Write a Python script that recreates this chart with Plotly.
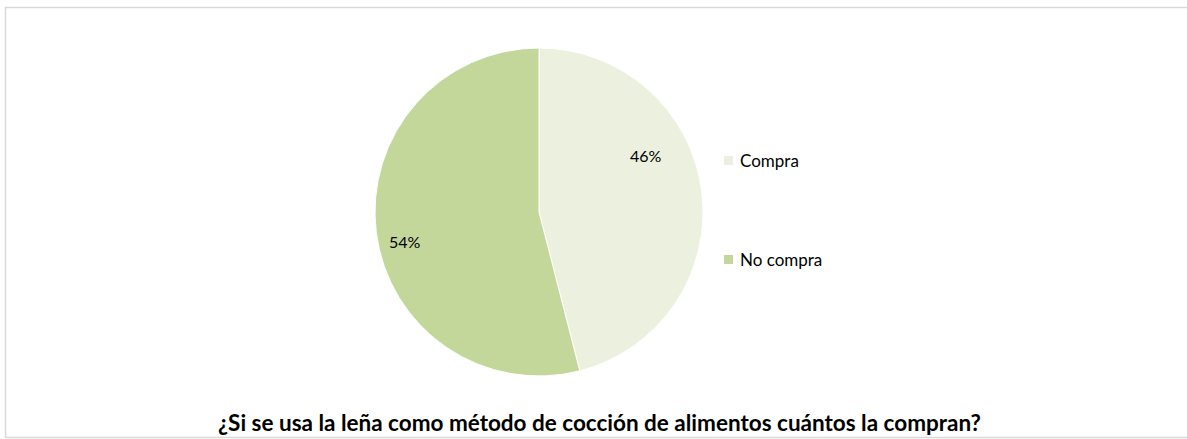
import plotly.graph_objects as go

# Survey answers: of households cooking with firewood, how many buy it
categories = ["Compra", "No compra"]
shares = [46, 54]
colors = ["#EBF1DE", "#C4D79B"]
title_text = "¿Si se usa la leña como método de cocción de alimentos cuántos la compran?"

W, H = 1187, 439
FONT = "Lato, 'Open Sans', sans-serif"

fig = go.Figure(
    go.Pie(
        labels=categories,
        values=shares,
        sort=False,
        direction="clockwise",
        rotation=0,
        marker=dict(colors=colors, line=dict(color="white", width=1)),
        textinfo="none",
        domain=dict(x=[375 / W, 703 / W], y=[1 - 376 / H, 1 - 48 / H]),
        showlegend=False,
        hoverinfo="label+percent",
    )
)

shapes = []
annotations = []

# Percentage labels placed inside each slice (best-fit spots)
label_pos = [(646, 155), (405, 241)]
for val, (lx, ly) in zip(shares, label_pos):
    annotations.append(dict(
        text=f"{val}%", xref="paper", yref="paper", x=lx / W, y=1 - ly / H,
        xanchor="center", yanchor="middle", showarrow=False,
        font=dict(family=FONT, size=16, color="#000000"),
    ))

# Hand-built legend: colour swatch plus label for each category
legend_y = [160, 259]
for name, col, ly in zip(categories, colors, legend_y):
    shapes.append(dict(
        type="rect", xref="paper", yref="paper",
        x0=724 / W, x1=733 / W, y0=1 - (ly + 5) / H, y1=1 - (ly - 4) / H,
        fillcolor=col, line=dict(width=0),
    ))
    annotations.append(dict(
        text=name, xref="paper", yref="paper", x=738 / W, y=1 - ly / H,
        xanchor="left", yanchor="middle", showarrow=False,
        font=dict(family=FONT, size=17, color="#000000"),
    ))

# Chart frame
shapes.append(dict(
    type="rect", xref="paper", yref="paper",
    x0=5.5 / W, x1=1.02, y0=1 - 437.5 / H, y1=1 - 7.5 / H,
    line=dict(color="#D9D9D9", width=1.5), fillcolor="rgba(0,0,0,0)",
))

annotations.append(dict(
    text="<b>" + title_text + "</b>", xref="paper", yref="paper",
    x=600 / W, y=1 - 422 / H, xanchor="center", yanchor="middle",
    showarrow=False, font=dict(family=FONT, size=22.5, color="#000000"),
))

fig.update_layout(
    width=W, height=H,
    margin=dict(l=0, r=0, t=0, b=0),
    paper_bgcolor="white", plot_bgcolor="white",
    shapes=shapes, annotations=annotations,
)

fig.write_html("out.html")
